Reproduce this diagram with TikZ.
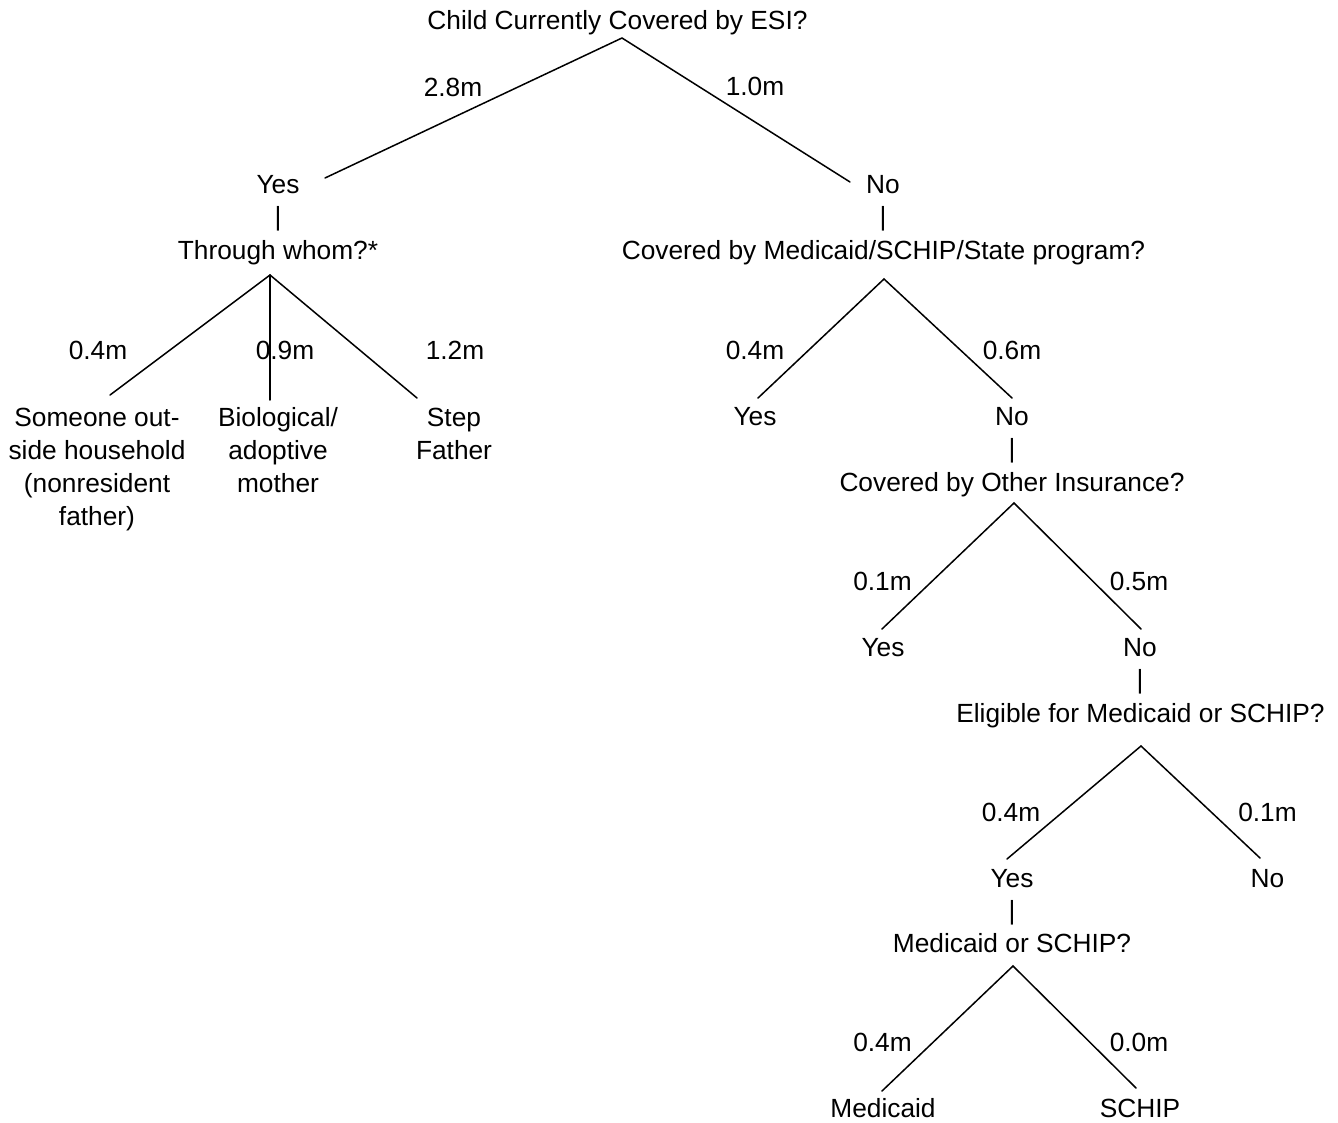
\documentclass[tikz,border=0pt]{standalone}
\usepackage{fontspec}
\setmainfont{Liberation Sans}
\begin{document}
\begin{tikzpicture}[x=1pt,y=-1pt,
  txt/.style={anchor=base, inner sep=0pt, align=center, font=\fontsize{26.3}{33}\selectfont},
  branch/.style={line width=1.5pt, line cap=round}]
\useasboundingbox (0,0) rectangle (1338,1123);
% ---- texts ----
\node[txt] (q0) at (617.5,30) {Child Currently Covered by ESI?};
\node[txt] (l28) at (453,97) {2.8m};
\node[txt] (l10) at (755,96) {1.0m};
\node[txt] (y0) at (278,194) {Yes};
\node[txt] (n0) at (883,194) {No};
\node[txt] (p1) at (278,226) {|};
\node[txt] (p2) at (883,226) {|};
\node[txt] (q1) at (278,260) {Through whom?*};
\node[txt] (q2) at (883.5,260) {Covered by Medicaid/SCHIP/State program?};
\node[txt] (l04a) at (98,359) {0.4m};
\node[txt] (l09) at (285,359) {0.9m};
\node[txt] (l12) at (455,359) {1.2m};
% multi-line nodes: base anchor sits on the last line
\node[txt] (a1) at (97,525.5) {Someone out-\\side household\\(nonresident\\father)};
\node[txt] (a2) at (278,492.5) {Biological/\\adoptive\\mother};
\node[txt] (a3) at (454,459.5) {Step\\Father};
\node[txt] (l04b) at (755,359) {0.4m};
\node[txt] (l06) at (1012,359) {0.6m};
\node[txt] (y2) at (755,425) {Yes};
\node[txt] (n2) at (1012,425) {No};
\node[txt] (p3) at (1012,457) {|};
\node[txt] (q3) at (1012,491) {Covered by Other Insurance?};
\node[txt] (l01a) at (882.5,590) {0.1m};
\node[txt] (l05) at (1139,590) {0.5m};
\node[txt] (y3) at (883,656) {Yes};
\node[txt] (n3) at (1140,656) {No};
\node[txt] (p4) at (1140,688) {|};
\node[txt] (q4) at (1140.5,722) {Eligible for Medicaid or SCHIP?};
\node[txt] (l04c) at (1011,821) {0.4m};
\node[txt] (l01b) at (1267.5,821) {0.1m};
\node[txt] (y4) at (1012,887) {Yes};
\node[txt] (n4) at (1267.5,887) {No};
\node[txt] (p5) at (1012,919) {|};
\node[txt] (q5) at (1012,952) {Medicaid or SCHIP?};
\node[txt] (l04d) at (882.5,1051) {0.4m};
\node[txt] (l00) at (1139,1051) {0.0m};
\node[txt] (m5) at (883,1117) {Medicaid};
\node[txt] (s5) at (1140,1117) {SCHIP};
% ---- branch points ----
\coordinate (t0) at (622,38);
\coordinate (e0a) at (325,178);
\coordinate (e0b) at (850,182);
\coordinate (t1) at (270,275);
\coordinate (e1a) at (110,395);
\coordinate (e1b) at (270,400);
\coordinate (e1c) at (417,398);
\coordinate (t2) at (884,279);
\coordinate (e2a) at (758,398);
\coordinate (e2b) at (1012,398);
\coordinate (t3) at (1014,503);
\coordinate (e3a) at (882,629);
\coordinate (e3b) at (1141,629);
\coordinate (t4) at (1141,746);
\coordinate (e4a) at (1007,859);
\coordinate (e4b) at (1260,858);
\coordinate (t5) at (1013,966);
\coordinate (e5a) at (882,1091);
\coordinate (e5b) at (1136,1088);
% ---- connectors ----
\draw[branch] (e0a) -- (t0) -- (e0b);
\draw[branch] (e1a) -- (t1) -- (e1c);
\draw[branch] (t1) -- (e1b);
\draw[branch] (e2a) -- (t2) -- (e2b);
\draw[branch] (e3a) -- (t3) -- (e3b);
\draw[branch] (e4a) -- (t4) -- (e4b);
\draw[branch] (e5a) -- (t5) -- (e5b);
\end{tikzpicture}
\end{document}
